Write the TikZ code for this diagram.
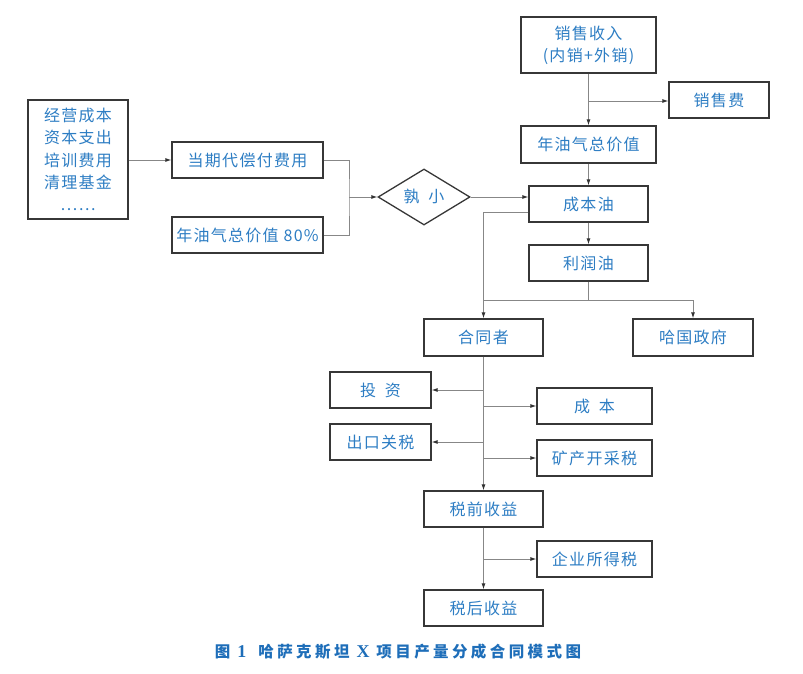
\documentclass[tikz,border=0pt]{standalone}
\usepackage{fontspec}
\setmainfont{Noto Sans CJK SC}[LetterSpace=8]
\newfontfamily\capfont{Noto Sans CJK SC}[LetterSpace=22]
\newfontfamily\capser{Liberation Serif}
\usetikzlibrary{arrows.meta,shapes.geometric,calc}
\definecolor{txt}{RGB}{45,125,195}
\definecolor{capc}{RGB}{30,110,185}
\definecolor{bordc}{RGB}{55,55,55}
\definecolor{linec}{RGB}{135,135,135}
\definecolor{tipc}{RGB}{50,50,50}
\newcommand{\fs}{\fontsize{16}{22.3}\selectfont}
\newcommand{\serb}[1]{{\fontsize{18}{18}\capser\bfseries #1}}
\tikzset{
  box/.style={draw=bordc, line width=1.3pt, inner sep=0pt, text=txt, font=\fs, align=center, minimum height=36pt},
  conn/.style={draw=linec, line width=0.9pt},
  arr/.style={conn, -{Latex[length=6pt,width=4pt,color=tipc]}},
}
\begin{document}
\begin{tikzpicture}[x=1pt,y=-1pt]
\useasboundingbox (0,0) rectangle (803,674);
% left column
\node[box, minimum width=100pt, minimum height=119pt] (L) at (78,159.5) {经营成本\\资本支出\\培训费用\\清理基金\\……};
\node[box, minimum width=151pt] (D1) at (247.5,160) {当期代偿付费用};
\node[box, minimum width=151pt] (D2) at (247.5,235) {年油气总价值 80\%};
\node[diamond, draw=bordc, line width=1.3pt, inner sep=0pt, minimum width=92pt, minimum height=42pt, text=txt, font=\fs] (M) at (424,197) {孰\hspace{9pt}小};
% right top
\node[box, minimum width=135pt, minimum height=56pt] (S) at (588.5,45) {销售收入\\(内销+外销)};
\node[box, minimum width=100pt] (F) at (719,100) {销售费};
\node[box, minimum width=135pt, minimum height=37pt] (N) at (588.5,144.5) {年油气总价值};
\node[box, minimum width=119pt] (C) at (588.5,204) {成本油};
\node[box, minimum width=119pt] (P) at (588.5,263) {利润油};
\node[box, minimum width=119pt, minimum height=37pt] (H) at (483.5,337.5) {合同者};
\node[box, minimum width=120pt, minimum height=37pt] (G) at (693,337.5) {哈国政府};
\node[box, minimum width=101pt] (T) at (380.5,390) {投\hspace{9pt}资};
\node[box, minimum width=115pt] (Cb) at (594.5,406) {成\hspace{9pt}本};
\node[box, minimum width=101pt] (E) at (380.5,442) {出口关税};
\node[box, minimum width=115pt] (K) at (594.5,458) {矿产开采税};
\node[box, minimum width=119pt] (Q) at (483.5,509) {税前收益};
\node[box, minimum width=115pt] (Y) at (594.5,559) {企业所得税};
\node[box, minimum width=119pt] (A) at (483.5,608) {税后收益};
% caption
\node[text=capc, font=\fontsize{15.5}{18}\capfont\bfseries\selectfont] (cap) at (398,652) {图 \serb{1}\hspace{12pt}哈萨克斯坦 \serb{X} 项目产量分成合同模式图};
% connectors left
\draw[arr] (L.east |- D1.east) -- (D1.west);
\coordinate (mj) at (349,197);
\draw[conn] (D1.east) -| (mj) |- (D2.east);
\draw[arr] (mj) -- (M.west);
\draw[arr] (M.east) -- (M.east -| C.west);
% right column
\coordinate (sj) at (588.5,101);
\draw[arr] (S.south) -- (N.north);
\draw[arr] (sj) -- (F.west |- sj);
\draw[arr] (N.south) -- (C.north);
\draw[arr] (C.south) -- (P.north);
\coordinate (cl) at ($(C.west)+(0,8)$);
\draw[arr] (cl) -| (H.north);
\coordinate (pj) at (588.5,300);
\draw[conn] (P.south) -- (pj);
\draw[arr] (pj -| H.north) -| (G.north);
% contractor branches
\draw[arr] (H.south) -- (Q.north);
\draw[arr] (T.east -| H.south) -- (T.east);
\draw[arr] (E.east -| H.south) -- (E.east);
\draw[arr] (Cb.west -| H.south) -- (Cb.west);
\draw[arr] (K.west -| H.south) -- (K.west);
\draw[arr] (Q.south) -- (A.north);
\draw[arr] (Y.west -| Q.south) -- (Y.west);
\end{tikzpicture}
\end{document}
